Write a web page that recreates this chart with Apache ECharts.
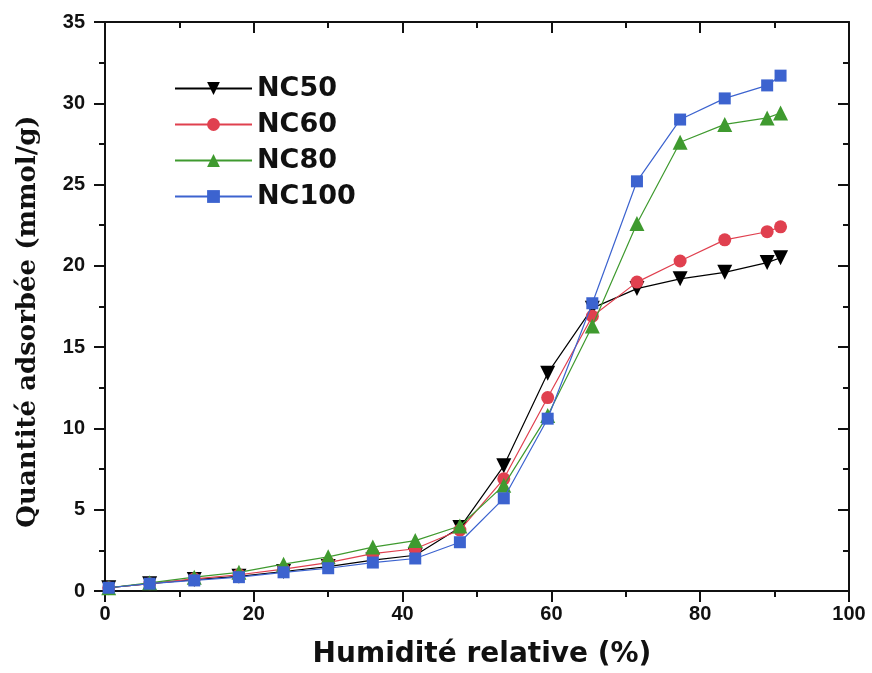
<!DOCTYPE html>
<html><head><meta charset="utf-8">
<script src="https://cdn.jsdelivr.net/npm/echarts@6/dist/echarts.min.js"></script>
<style>html,body{margin:0;padding:0;background:#fff}#c{width:872px;height:673px}</style>
</head><body><div id="c"></div>
<script>
const humidity = [0.5, 6, 12, 18, 24, 30, 36, 41.7, 47.7, 53.6, 59.5, 65.5, 71.5, 77.3, 83.3, 89, 90.8];
const nc50  = [0.2, 0.45, 0.7, 0.9, 1.2, 1.5, 1.9, 2.2, 3.9, 7.7, 13.4, 17.4, 18.6, 19.2, 19.6, 20.2, 20.5];
const nc60  = [0.2, 0.45, 0.75, 1.0, 1.35, 1.75, 2.3, 2.6, 3.75, 6.9, 11.9, 16.9, 19.0, 20.3, 21.6, 22.1, 22.4];
const nc80  = [0.2, 0.5, 0.85, 1.15, 1.65, 2.1, 2.7, 3.1, 4.0, 6.5, 10.8, 16.3, 22.6, 27.6, 28.7, 29.1, 29.4];
const nc100 = [0.2, 0.45, 0.65, 0.85, 1.15, 1.4, 1.75, 2.0, 3.0, 5.7, 10.6, 17.7, 25.2, 29.0, 30.3, 31.1, 31.7];
const seriesNames = ['NC50', 'NC60', 'NC80', 'NC100'];
const xLabel = 'Humidité relative (%)';
const yLabel = 'Quantité adsorbée (mmol/g)';

const pair = (ys) => humidity.map((x, i) => [x, ys[i]]);
const chart = echarts.init(document.getElementById('c'));
const tickFont = {fontFamily: 'Liberation Sans', fontWeight: 'bold', fontSize: 20, color: '#111'};
const lineStyleAxis = {color: '#111', width: 2};
function ticks(inside) {
  return {
    axisTick: {show: true, inside: inside, length: 11, lineStyle: {color: '#111', width: 2}},
    minorTick: {show: true, splitNumber: 2, length: 6, lineStyle: {color: '#111', width: 2}}
  };
}
function mkX(pos, labels) {
  return {type: 'value', position: pos, min: 0, max: 100, interval: 20,
    axisLine: {show: true, onZero: false, lineStyle: lineStyleAxis},
    ...ticks(!labels),
    splitLine: {show: false}, minorSplitLine: {show: false},
    axisLabel: {show: labels, margin: 13, ...tickFont},
    name: labels ? xLabel : '', nameLocation: 'middle', nameGap: 50,
    nameTextStyle: {fontFamily: 'DejaVu Sans', fontWeight: 'bold', fontSize: 28, color: '#111', padding: [0, 0, 0, 10]}};
}
function mkY(pos, labels) {
  return {type: 'value', position: pos, min: 0, max: 35, interval: 5,
    axisLine: {show: true, onZero: false, lineStyle: lineStyleAxis},
    ...ticks(!labels),
    splitLine: {show: false}, minorSplitLine: {show: false},
    axisLabel: {show: labels, margin: 20, ...tickFont},
    name: labels ? yLabel : '', nameLocation: 'middle', nameGap: 64, nameRotate: 90,
    nameTextStyle: {fontFamily: 'DejaVu Serif', fontWeight: 'bold', fontSize: 26, color: '#111', padding: [0, 30, 0, 0]}};
}
const colors = ['#000000', '#e0404f', '#3f9a2f', '#3c63cf'];
const symbols = ['triangle', 'circle', 'triangle', 'rect'];
const rot = [180, 0, 0, 0];
const sizes = [15, 13, 15, 12];
const data = [nc50, nc60, nc80, nc100];
chart.setOption({
  animation: false,
  grid: {left: 105, right: 23, top: 22, bottom: 82, outerBoundsMode: 'none', containLabel: false},
  legend: {left: 169, top: 70, orient: 'vertical', itemWidth: 77, itemHeight: 16, itemGap: 9,
    data: seriesNames,
    textStyle: {fontFamily: 'DejaVu Sans', fontWeight: 'bold', fontSize: 27, color: '#111'}},
  xAxis: [mkX('bottom', true), mkX('top', false)],
  yAxis: [mkY('left', true), mkY('right', false)],
  series: seriesNames.map((n, i) => ({
    name: n, type: 'line', data: pair(data[i]), xAxisIndex: 0, yAxisIndex: 0,
    symbol: symbols[i], symbolRotate: rot[i], symbolSize: sizes[i],
    itemStyle: {color: colors[i]}, lineStyle: {color: colors[i], width: 1.2},
    z: 2 + i
  }))
});
</script></body></html>
